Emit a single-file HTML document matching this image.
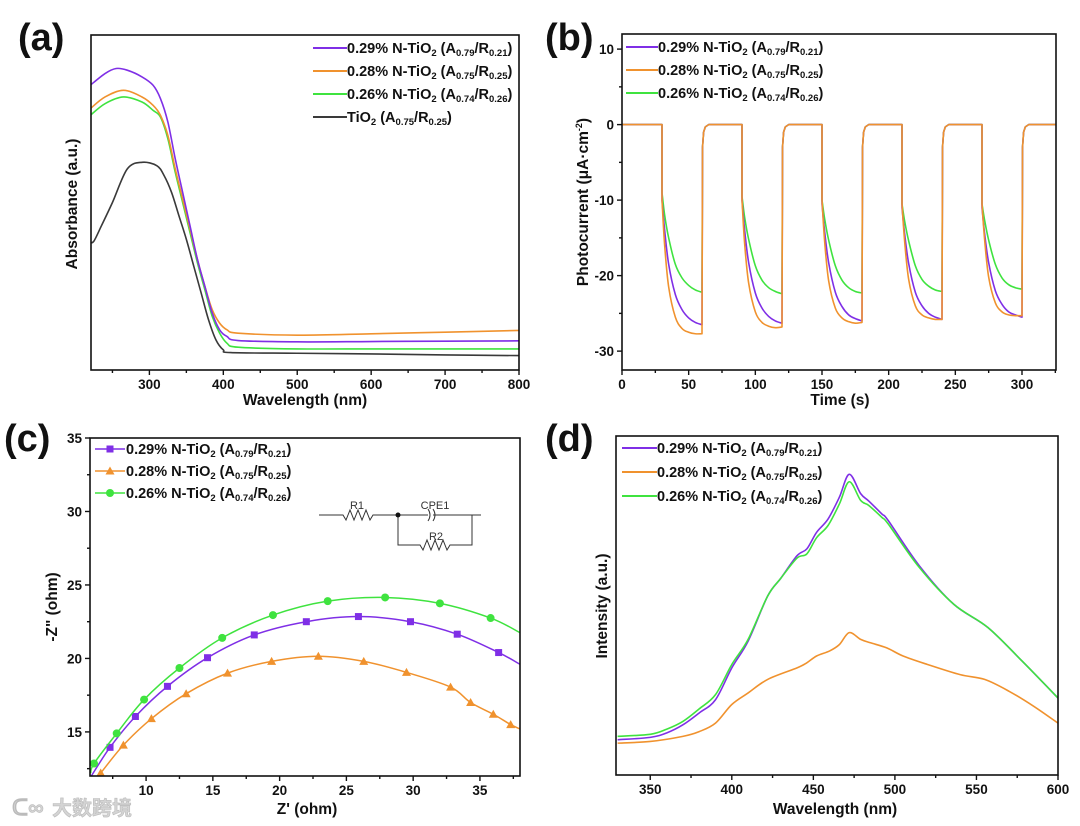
<!DOCTYPE html>
<html><head><meta charset="utf-8"><style>
html,body{margin:0;padding:0;background:#fff;}
svg{display:block;font-family:"Liberation Sans","Noto Sans CJK SC",sans-serif;}
.tk{font-size:13.5px;font-weight:bold;fill:#111;}
.ttl{font-size:15.5px;font-weight:bold;fill:#111;}
.lg{font-size:14.5px;font-weight:bold;fill:#111;}
.pl{font-size:38px;font-weight:bold;fill:#111;}
</style></head><body>
<svg id="fig" width="1080" height="826" viewBox="0 0 1080 826">
<text x="18" y="50" class="pl">(a)</text>
<text x="545" y="50" class="pl">(b)</text>
<text x="4" y="451" class="pl">(c)</text>
<text x="545" y="451" class="pl">(d)</text>
<g fill="#d4d4d4" stroke="#bbb" stroke-width="0.6">
<text x="12" y="815" font-size="22" font-weight="bold">ᑕ∞</text>
<text x="52" y="815" font-size="20" font-weight="bold">大数跨境</text>
</g>
</svg>
<script>
// ---------- Panel (a) data ----------
const aWave = {
  p:[220,240,255,270,290,305,315,325,335,345,355,365,375,385,395,405,420,500,600,700,800],
  o:[220,240,265,290,305,315,325,335,345,355,365,375,385,395,405,420,500,600,700,800],
  g:[220,240,265,290,305,315,325,335,345,355,365,375,385,395,405,420,500,600,700,800],
  k:[220,225,235,250,270,290,310,320,330,340,350,360,370,380,390,400,410,500,600,700,800]
};
const aPurple=[.85,.885,.90,.895,.875,.85,.81,.74,.63,.53,.43,.33,.25,.17,.12,.10,.088,.084,.085,.086,.087];
const aOrange=[.78,.815,.835,.815,.79,.76,.70,.60,.51,.42,.33,.25,.18,.14,.12,.11,.104,.108,.113,.118];
const aGreen=[.76,.795,.815,.80,.775,.755,.69,.59,.50,.41,.32,.24,.16,.11,.08,.068,.063,.063,.063,.063];
const aGray=[.38,.385,.43,.50,.60,.62,.61,.58,.53,.46,.39,.31,.23,.15,.09,.06,.052,.05,.048,.045,.043];
const aTicks=[300,400,500,600,700,800];
// ---------- Panel (b) data ----------
const bOnStarts=[30,90,150,210,270];
const bOffsets=[0,2,5,10,15,20,25,30];
const bPurple=[[-10,-14,-18.5,-22.5,-24.5,-25.6,-26.2,-26.5],[-10,-14,-18.3,-22.3,-24.3,-25.4,-26,-26.3],[-10.5,-14.2,-18.3,-22.2,-24.1,-25.2,-25.7,-26],[-11,-14.5,-18.4,-22.2,-24,-25,-25.5,-25.8],[-11,-14.5,-18.3,-22,-23.8,-24.8,-25.2,-25.5]];
const bOrange=[[-10,-16,-21.5,-25.5,-27,-27.5,-27.7,-27.7],[-10,-15.8,-21,-24.8,-26.2,-26.7,-26.9,-26.8],[-10,-15.5,-20.7,-24.3,-25.6,-26.1,-26.3,-26.2],[-10.5,-15.5,-20.5,-24,-25.2,-25.6,-25.8,-25.8],[-10.5,-15.3,-20.2,-23.6,-24.8,-25.2,-25.3,-25.3]];
const bGreen=[[-9,-12,-15,-18.5,-20.3,-21.3,-21.9,-22.2],[-9.5,-12.3,-15.2,-18.7,-20.6,-21.6,-22.1,-22.4],[-10,-12.5,-15.3,-18.7,-20.6,-21.6,-22.1,-22.3],[-10.5,-12.8,-15.4,-18.7,-20.5,-21.4,-21.9,-22.1],[-10.5,-12.7,-15.3,-18.5,-20.3,-21.2,-21.6,-21.8]];
const bRecOffsets=[0.4,1.2,2.5,5];
const bRecValues=[-3,-1,-0.3,0];
const bXTicks=[0,50,100,150,200,250,300];
const bYTicks=[10,0,-10,-20,-30];
// ---------- Panel (c) data ----------
const cPurpleX=[7.3,9.2,11.6,14.6,18.1,22.0,25.9,29.8,33.3,36.4];
const cPurpleY=[13.95,16.05,18.1,20.05,21.6,22.5,22.85,22.5,21.65,20.4];
const cPurpleEnds=[[5.9,12.0],[38,19.6]];
const cOrangeX=[6.6,8.3,10.4,13.0,16.1,19.4,22.9,26.3,29.5,32.8,34.3,36.0,37.3];
const cOrangeY=[12.2,14.1,15.9,17.6,19.0,19.8,20.15,19.8,19.05,18.05,17.0,16.2,15.5];
const cOrangeEnds=[[6.2,11.8],[38,15.2]];
const cGreenX=[6.1,7.8,9.85,12.5,15.7,19.5,23.6,27.9,32.0,35.8];
const cGreenY=[12.85,14.9,17.2,19.35,21.4,22.95,23.9,24.15,23.75,22.75];
const cGreenEnds=[[5.85,12.2],[38,21.75]];
const cXTicks=[10,15,20,25,30,35];
const cYTicks=[15,20,25,30,35];
// ---------- Panel (d) data ----------
const dWave=[330,350,360,370,380,390,400,410,422,430,440,446,452,459,466,472,479,484,492,496,515,536,557,578,600];
const dPurple=[.104,.111,.124,.148,.183,.222,.316,.395,.528,.58,.647,.667,.716,.755,.82,.887,.83,.808,.77,.75,.617,.504,.435,.336,.227];
const dGreen=[.114,.12,.135,.158,.195,.237,.326,.40,.528,.58,.64,.652,.70,.736,.80,.865,.81,.795,.76,.74,.612,.504,.435,.336,.227];
const dOWave=[330,350,370,380,390,400,410,422,440,446,452,460,466,472,479,485,495,505,520,540,555,570,585,600];
const dOrange=[.094,.099,.114,.128,.153,.208,.242,.282,.316,.331,.351,.366,.385,.42,.40,.39,.375,.351,.326,.296,.282,.247,.203,.153];
const dTicks=[350,400,450,500,550,600];

const NS="http://www.w3.org/2000/svg";
const svg=document.getElementById('fig');
const C={p:'#7f2fe6',o:'#f0922e',g:'#3fe33f',k:'#3a3a3a'};
function mk(tag,attrs,parent){const e=document.createElementNS(NS,tag);for(const k in attrs)e.setAttribute(k,attrs[k]);(parent||svg).appendChild(e);return e;}
function scale(d0,d1,r0,r1){return v=>r0+(v-d0)*(r1-r0)/(d1-d0);}
function smooth(pts){if(pts.length<2)return'';let d='M'+pts[0][0].toFixed(2)+','+pts[0][1].toFixed(2);
 for(let i=0;i<pts.length-1;i++){const p0=pts[i-1]||pts[i],p1=pts[i],p2=pts[i+1],p3=pts[i+2]||p2;
 const c1=[p1[0]+(p2[0]-p0[0])/6,p1[1]+(p2[1]-p0[1])/6],c2=[p2[0]-(p3[0]-p1[0])/6,p2[1]-(p3[1]-p1[1])/6];
 d+='C'+c1[0].toFixed(2)+','+c1[1].toFixed(2)+' '+c2[0].toFixed(2)+','+c2[1].toFixed(2)+' '+p2[0].toFixed(2)+','+p2[1].toFixed(2);}return d;}
function frame(g,L,R,T,B){const r=mk('rect',{x:L,y:T,width:R-L,height:B-T,fill:'none',stroke:'#111','stroke-width':1.6},g);
 }
function xTicks(g,ticks,sx,B,minorStep,xmin,xmax){
 for(let v=Math.ceil(xmin/minorStep)*minorStep;v<=xmax+1e-9;v+=minorStep){const X=sx(v);const major=ticks.some(t=>Math.abs(t-v)<1e-6);
  mk('line',{x1:X,x2:X,y1:B,y2:B+(major?5:3),stroke:'#111','stroke-width':1.4},g);}
 ticks.forEach(t=>{const e=mk('text',{x:sx(t),y:B+19,'text-anchor':'middle',class:'tk'},g);e.textContent=t;
  });}
function yTicks(g,ticks,sy,L,minorStep,ymin,ymax){
 for(let v=Math.ceil(ymin/minorStep)*minorStep;v<=ymax+1e-9;v+=minorStep){const Y=sy(v);const major=ticks.some(t=>Math.abs(t-v)<1e-6);
  mk('line',{x1:L,x2:L-(major?5:3),y1:Y,y2:Y,stroke:'#111','stroke-width':1.4},g);}
 ticks.forEach(t=>{const e=mk('text',{x:L-8,y:sy(t)+5,'text-anchor':'end',class:'tk'},g);e.textContent=t;
  });}
function title(g,txt,x,y,rot,name){const e=mk('text',{x:x,y:y,'text-anchor':'middle',class:'ttl'},g);
 if(rot)e.setAttribute('transform','rotate(-90 '+x+' '+y+')');e.innerHTML=txt;
 return e;}
function legText(g,x,y,pct,a,r){const e=mk('text',{x:x,y:y,class:'lg'},g);
 const sub='<tspan font-size="9.5" dy="3">';
 e.innerHTML=(pct?pct+' N-':'')+'TiO'+sub+'2</tspan><tspan dy="-3"> (A</tspan>'+sub+a+'</tspan><tspan dy="-3">/R</tspan>'+sub+r+'</tspan><tspan dy="-3">)</tspan>';
 }
function marker(g,type,x,y,col){let e;
 if(type==='s')e=mk('rect',{x:x-3.5,y:y-3.5,width:7,height:7,fill:col},g);
 else if(type==='t')e=mk('path',{d:`M${x},${y-4.5}L${x+4.5},${y+3.5}L${x-4.5},${y+3.5}Z`,fill:col},g);
 else e=mk('circle',{cx:x,cy:y,r:4,fill:col},g);
 }
function clip(id,L,R,T,B){const cp=mk('clipPath',{id:id});mk('rect',{x:L,y:T,width:R-L,height:B-T},cp);}

// ===== Panel (a) =====
(function(){const L=91,R=519,T=35,B=370;
 const g=mk('g',{});
 const sx=scale(221,800,L,R),sy=scale(0,1,B,T);clip('ca',L,R,T,B);
 const series=[['k',aWave.k,aGray],['g',aWave.g,aGreen],['o',aWave.o,aOrange],['p',aWave.p,aPurple]];
 series.forEach(s=>{const p=mk('path',{d:smooth(s[1].map((w,i)=>[sx(w),sy(s[2][i])])),fill:'none',stroke:C[s[0]],'stroke-width':1.6,'clip-path':'url(#ca)'},g);
  });
 frame(g,L,R,T,B);xTicks(g,aTicks,sx,B,50,221,800);
 title(g,'Wavelength (nm)',305,405,false,'x-axis-title');title(g,'Absorbance (a.u.)',77,204,true,'y-axis-title');
 const leg=[['p','0.29%','0.79','0.21',48],['o','0.28%','0.75','0.25',71],['g','0.26%','0.74','0.26',94],['k','','0.75','0.25',117]];
 leg.forEach(l=>{const lg=mk('g',{},g);
  mk('line',{x1:313,x2:347,y1:l[4],y2:l[4],stroke:C[l[0]],'stroke-width':2},lg);legText(lg,347,l[4]+5,l[1],l[2],l[3]);});
})();

// ===== Panel (b) =====
(function(){const L=622,R=1056,T=34,B=370;
 const g=mk('g',{});
 const sx=scale(0,325.5,L,R),sy=scale(-32.5,12,B,T);clip('cb',L,R,T,B);
 const series=[['g',bGreen],['p',bPurple],['o',bOrange]];
 series.forEach(s=>{let d='M'+sx(0)+','+sy(0);
  bOnStarts.forEach((t0,ci)=>{const vals=s[1][ci];d+='L'+sx(t0)+','+sy(0);
   const pts=bOffsets.map((o,i)=>[sx(t0+o),sy(vals[i])]);d+='L'+smooth(pts).slice(1);
   const tOff=t0+30;const rec=bRecOffsets.map((o,i)=>[sx(tOff+o),sy(bRecValues[i])]);
   d+='L'+rec.map(p=>p[0].toFixed(2)+','+p[1].toFixed(2)).join('L');});
  d+='L'+sx(325.5)+','+sy(0);
  const p=mk('path',{d:d,fill:'none',stroke:C[s[0]],'stroke-width':1.6,'clip-path':'url(#cb)','stroke-linejoin':'round'},g);
  });
 frame(g,L,R,T,B);xTicks(g,bXTicks,sx,B,25,0,325);yTicks(g,bYTicks,sy,L,5,-32.5,12);
 title(g,'Time (s)',840,405,false,'x-axis-title');title(g,'Photocurrent (μA·cm<tspan font-size="9" dy="-6">-2</tspan><tspan dy="6">)</tspan>',588,202,true,'y-axis-title');
 const leg=[['p','0.29%','0.79','0.21',47],['o','0.28%','0.75','0.25',70],['g','0.26%','0.74','0.26',93]];
 leg.forEach(l=>{const lg=mk('g',{},g);
  mk('line',{x1:626,x2:658,y1:l[4],y2:l[4],stroke:C[l[0]],'stroke-width':2},lg);legText(lg,658,l[4]+5,l[1],l[2],l[3]);});
})();

// ===== Panel (c) =====
(function(){const L=90,R=520,T=438,B=776;
 const g=mk('g',{});
 const sx=scale(5.8,38,L,R),sy=scale(12,35,B,T);clip('cc',L,R,T,B);
 const series=[['o','t',cOrangeX,cOrangeY,cOrangeEnds],['p','s',cPurpleX,cPurpleY,cPurpleEnds],['g','c',cGreenX,cGreenY,cGreenEnds]];
 series.forEach(s=>{const pts=[[sx(s[4][0][0]),sy(s[4][0][1])]].concat(s[2].map((x,i)=>[sx(x),sy(s[3][i])])).concat([[sx(s[4][1][0]),sy(s[4][1][1])]]);
  const p=mk('path',{d:smooth(pts),fill:'none',stroke:C[s[0]],'stroke-width':1.5,'clip-path':'url(#cc)'},g);
  
  s[2].forEach((x,i)=>marker(g,s[1],sx(x),sy(s[3][i]),C[s[0]]));});
 frame(g,L,R,T,B);xTicks(g,cXTicks,sx,B,2.5,5.8,38);yTicks(g,cYTicks,sy,L,2.5,12,35);
 title(g,"Z' (ohm)",307,814,false,'x-axis-title');title(g,'-Z" (ohm)',57,607,true,'y-axis-title');
 const leg=[['p','s','0.29%','0.79','0.21',449],['o','t','0.28%','0.75','0.25',471],['g','c','0.26%','0.74','0.26',493]];
 leg.forEach(l=>{const lg=mk('g',{},g);
  mk('line',{x1:95,x2:125,y1:l[5],y2:l[5],stroke:C[l[0]],'stroke-width':1.5},lg);marker(lg,l[1],110,l[5],C[l[0]]);legText(lg,126,l[5]+5,l[2],l[3],l[4]);});
 const ci=mk('g',{fill:'none',stroke:'#333','stroke-width':1},g);
 mk('path',{d:'M319,515L343,515L346,520L350,510L354,520L358,510L362,520L366,510L370,520L373,515L428,515 M433,515L481,515 M398,515L398,545L420,545L423,550L427,540L431,550L435,540L439,550L443,540L447,550L450,545L472,545L472,515'},ci);
 mk('path',{d:'M428,509Q432,515 428,521 M433,509Q437,515 433,521'},ci);
 mk('circle',{cx:398,cy:515,r:2.5,fill:'#111',stroke:'none'},ci);
 [['R1',357,509],['CPE1',435,509],['R2',436,540]].forEach(t=>{const e=mk('text',{x:t[1],y:t[2],'text-anchor':'middle','font-size':11,fill:'#333',stroke:'none'},ci);e.textContent=t[0];
  });
})();

// ===== Panel (d) =====
(function(){const L=616,R=1058,T=436,B=775;
 const g=mk('g',{});
 const sx=scale(329,600,L,R),sy=scale(0,1,B,T);clip('cd',L,R,T,B);
 const series=[['o',dOWave,dOrange],['p',dWave,dPurple],['g',dWave,dGreen]];
 series.forEach(s=>{const p=mk('path',{d:smooth(s[1].map((w,i)=>[sx(w),sy(s[2][i])])),fill:'none',stroke:C[s[0]],'stroke-width':1.6,'clip-path':'url(#cd)'},g);
  });
 frame(g,L,R,T,B);xTicks(g,dTicks,sx,B,25,329,600);
 title(g,'Wavelength (nm)',835,814,false,'x-axis-title');title(g,'Intensity (a.u.)',607,606,true,'y-axis-title');
 const leg=[['p','0.29%','0.79','0.21',448],['o','0.28%','0.75','0.25',472],['g','0.26%','0.74','0.26',496]];
 leg.forEach(l=>{const lg=mk('g',{},g);
  mk('line',{x1:622,x2:657,y1:l[4],y2:l[4],stroke:C[l[0]],'stroke-width':2},lg);legText(lg,657,l[4]+5,l[1],l[2],l[3]);});
})();
</script>
</body></html>
